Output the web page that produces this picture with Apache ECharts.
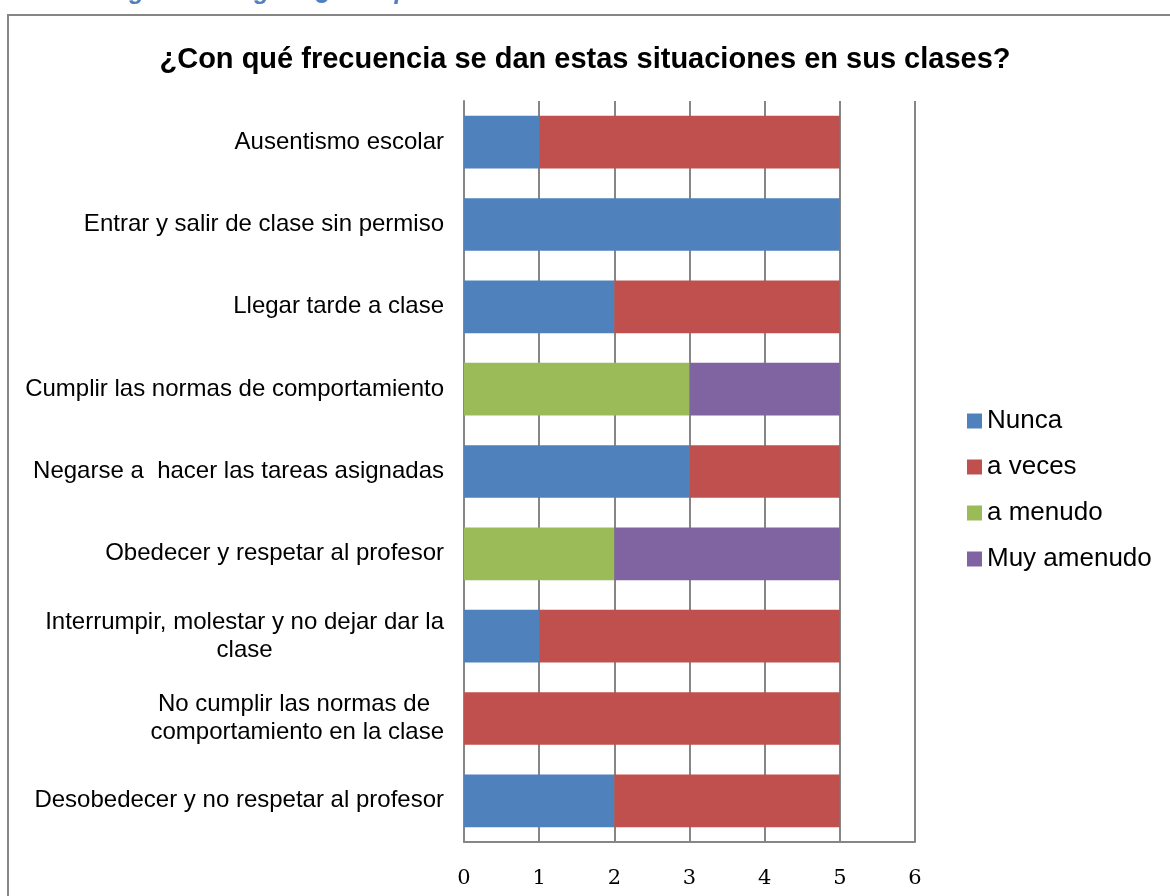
<!DOCTYPE html>
<html>
<head>
<meta charset="utf-8">
<script src="https://cdn.jsdelivr.net/npm/echarts@6/dist/echarts.min.js"></script>
<style>
  html, body { margin: 0; padding: 0; background: #fff; }
  #chart { width: 1170px; height: 896px; }
</style>
</head>
<body>
<div id="chart"></div>
<script>
var categories = [
  'Ausentismo escolar',
  'Entrar y salir de clase sin permiso',
  'Llegar tarde a clase',
  'Cumplir las normas de comportamiento',
  'Negarse a  hacer las tareas asignadas',
  'Obedecer y respetar al profesor',
  'Interrumpir, molestar y no dejar dar la\nclase',
  'No cumplir las normas de \ncomportamiento en la clase',
  'Desobedecer y no respetar al profesor'
];
var nunca      = [1, 5, 2, 0, 3, 0, 1, 0, 2];
var aVeces     = [4, 0, 3, 0, 2, 0, 4, 5, 3];
var aMenudo    = [0, 0, 0, 3, 0, 2, 0, 0, 0];
var muyAmenudo = [0, 0, 0, 2, 0, 3, 0, 0, 0];
var xTicks = [0, 1, 2, 3, 4, 5, 6];

var seriesNames = ['Nunca', 'a veces', 'a menudo', 'Muy amenudo'];
var seriesData = [nunca, aVeces, aMenudo, muyAmenudo];
var colors = ['#4F81BD', '#C0504D', '#9BBB59', '#8064A2'];

var chart = echarts.init(document.getElementById('chart'));

function makeSeries() {
  return seriesNames.map(function (name, i) {
    return {
      name: name,
      type: 'bar',
      stack: 'total',
      barWidth: '64%',
      itemStyle: { color: colors[i] },
      data: seriesData[i]
    };
  });
}

var option = {
  animation: false,
  textStyle: { fontFamily: 'Liberation Sans, Arial, sans-serif' },
  title: {
    text: '¿Con qué frecuencia se dan estas situaciones en sus clases?',
    left: 'center',
    top: 40,
    textStyle: { fontSize: 29, fontWeight: 'bold', color: '#000', fontFamily: 'Liberation Sans, Arial, sans-serif' }
  },
  graphic: [
    {
      type: 'text',
      left: 'center',
      top: -20,
      style: {
        text: 'Figura 14. Figura ¿Con qué frecuencia ocurren estas situaciones en sus clases?',
        font: 'italic bold 25px "Liberation Sans", Arial, sans-serif',
        fill: '#4F81BD'
      }
    },
    {
      type: 'rect',
      shape: { x: 8, y: 15, width: 1180, height: 900 },
      style: { fill: null, stroke: '#868686', lineWidth: 2 },
      silent: true
    }
  ],
  legend: {
    orient: 'vertical',
    left: 962,
    top: 403,
    itemWidth: 15,
    itemHeight: 15,
    itemGap: 20,
    icon: 'rect',
    textStyle: { fontSize: 26, color: '#000', fontFamily: 'Liberation Sans, Arial, sans-serif' },
    data: seriesNames
  },
  grid: {
    left: 464,
    right: 255,
    top: 101,
    bottom: 54,
    containLabel: false
  },
  xAxis: {
    type: 'value',
    min: 0,
    max: 6,
    interval: 1,
    axisLine: { show: true, lineStyle: { color: '#868686', width: 2 } },
    axisTick: { show: false },
    splitLine: { show: true, lineStyle: { color: '#868686', width: 2 } },
    axisLabel: {
      margin: 26,
      color: '#000',
      fontSize: 21,
      fontFamily: 'DejaVu Serif, Liberation Serif, serif',
      formatter: function (v) { return xTicks.indexOf(v) >= 0 ? String(v) : ''; }
    }
  },
  yAxis: {
    type: 'category',
    inverse: true,
    data: categories,
    axisLine: { show: true, lineStyle: { color: '#868686', width: 2 } },
    axisTick: { show: false },
    axisLabel: {
      margin: 20,
      color: '#000',
      fontSize: 24,
      lineHeight: 28,
      fontFamily: 'Liberation Sans, Arial, sans-serif',
      formatter: function (v) {
        if (v.indexOf('\n') < 0) return v;
        return v.split('\n').map(function (l) { return '{c|' + l + '}'; }).join('\n');
      },
      rich: {
        c: {
          align: 'center',
          fontSize: 24,
          lineHeight: 28,
          color: '#000',
          fontFamily: 'Liberation Sans, Arial, sans-serif'
        }
      }
    }
  },
  series: makeSeries()
};

chart.setOption(option);
window.onresize = function () { chart.resize(); };
</script>
</body>
</html>
